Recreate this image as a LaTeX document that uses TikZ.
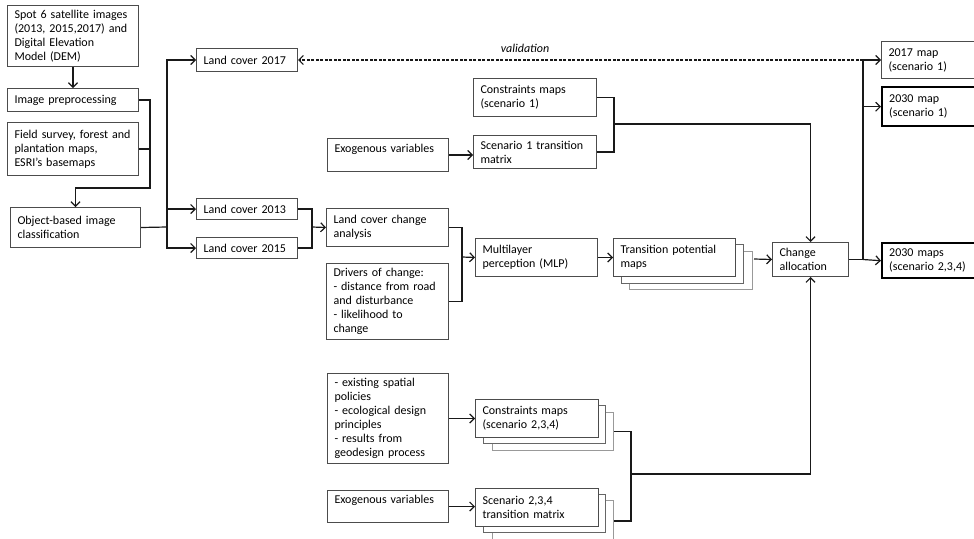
\documentclass[tikz,border=0pt]{standalone}
\usepackage{fontspec}
\setmainfont{Carlito}
\usetikzlibrary{arrows.meta}
\tikzset{
 box/.style={draw=black!70, line width=1pt, fill=white, anchor=north west, align=left, inner xsep=7pt, inner ysep=1pt, font=\fontsize{12}{14}\selectfont},
 shadowB/.style={draw=black!60},
 shadowC/.style={draw=black!40},
 thickbox/.style={draw=black, line width=2.4pt},
 conn/.style={draw=black!90, line width=1.2pt},
 arr/.style={conn, -{Straight Barb[length=4.5pt,width=9pt]}},
}
\newcommand\bx[7][]{%
 \pgfmathsetmacro\bw{#5-#3}\pgfmathsetmacro\bh{#6-#4}\pgfmathsetmacro\tw{#5-#3-13}%
 \node[box,#1,minimum width=\bw pt,minimum height=\bh pt,text width=\tw pt] (#2) at (#3,#4) {#7};}
\begin{document}
\begin{tikzpicture}[x=1pt,y=-1pt]
\useasboundingbox (0,0) rectangle (974,538);
\fill[white] (0,0) rectangle (974,538);
\clip (0,0) rectangle (974,538);

% left column
\bx{spot}{7}{5}{137}{66}{Spot 6 satellite images\\(2013, 2015,2017) and\\Digital Elevation\\Model (DEM)}
\bx{prep}{7}{88}{137}{111}{Image preprocessing}
\bx{field}{7}{122}{137}{175}{Field survey, forest and\\plantation maps,\\ESRI’s basemaps}
\bx{obj}{10}{207}{139}{247}{Object-based image\\classification}

% land covers
\bx{lc17}{196}{48}{296}{71}{Land cover 2017}
\bx{lc13}{196}{198}{296}{219}{Land cover 2013}
\bx{lc15}{196}{237}{296}{258}{Land cover 2015}

% scenario 1
\bx{cm1}{473}{78}{595}{116}{Constraints maps\\(scenario 1)}
\bx{exo1}{327}{138}{447}{171}{Exogenous variables\\\mbox{}}
\bx{tm1}{473}{135}{595}{168}{Scenario 1 transition\\matrix}

% change analysis
\bx{lcca}{326}{208}{447}{246}{Land cover change\\analysis}
\bx{drivers}{326}{263}{447}{339}{Drivers of change:\\- distance from road\\and disturbance\\- likelihood to\\change}
\bx{mlp}{475}{238}{596}{276}{Multilayer\\perception (MLP)}
\bx[shadowC]{tpmC}{629}{251}{751}{289}{}
\bx[shadowB]{tpmB}{621}{244}{742}{283}{}
\bx{tpm}{613}{238}{734}{276}{Transition potential\\maps}
\bx{ca}{772}{242}{847}{276}{Change\\allocation}

% outputs
\bx{map1}{881}{41}{1000}{78}{2017 map\\(scenario 1)}
\bx[thickbox]{map2}{881}{86}{1000}{125}{2030 map\\(scenario 1)}
\bx[thickbox]{map3}{881}{242}{1000}{277}{2030 maps\\(scenario 2,3,4)}

% scenarios 2,3,4
\bx{bul}{327}{373}{447}{463}{- existing spatial\\policies\\- ecological design\\principles\\- results from\\geodesign process}
\bx[shadowC]{cm2C}{492}{412}{612}{450}{}
\bx[shadowB]{cm2B}{483}{405}{604}{443}{}
\bx{cm2}{475}{399}{597}{437}{Constraints maps\\(scenario 2,3,4)}
\bx{exo2}{327}{490}{447}{522}{Exogenous variables\\\mbox{}}
\bx[shadowC]{tm2C}{492}{500}{612}{541}{}
\bx[shadowB]{tm2B}{483}{494}{604}{532}{}
\bx{tm2}{475}{488}{597}{526}{Scenario 2,3,4\\transition matrix}

\node[font=\fontsize{12}{14}\selectfont\itshape] (val) at (525,48) {validation};

% connectors
\coordinate (j1) at (150,188);
\draw[arr] (spot.south) -- (prep.north);
\draw[arr] (prep.east) -| (j1) -| (obj.north);
\draw[conn] (field.east) -- (field.east -| j1);

\coordinate (j2) at (167,227);
\draw[conn] (obj.east) -- (j2);
\draw[arr] (j2) |- (lc17.west);
\draw[arr] (j2) |- (lc13.west);
\draw[arr] (j2) |- (lc15.west);

\coordinate (j3) at (312,227);
\draw[conn] (lc13.east) -| (j3);
\draw[conn] (lc15.east) -| (j3);
\draw[arr] (j3) -- (lcca.west);

\coordinate (j4) at (462,257);
\draw[conn] (lcca.east) -| (j4);
\draw[conn] (drivers.east) -| (j4);
\draw[arr] (j4) -- (mlp.west);
\draw[arr] (mlp.east) -- (tpm.west);

\coordinate (j5) at (754,259);
\draw[arr] (j5) -- (ca.west);

\coordinate (j6) at (863,259.5);
\draw[conn] (ca.east) -- (j6);
\draw[arr] (j6) -- (map3.west);
\draw[arr] (j6) |- (map2.west);
\draw[arr] (j6) |- (map1.west);
\draw[arr, dash pattern=on 3pt off 1.5pt] (j6 |- lc17.east) -- (lc17.east);

\coordinate (j7) at (614,124);
\draw[conn] (cm1.east) -| (j7);
\draw[conn] (tm1.east) -| (j7);
\draw[arr] (j7) -| (ca.north);
\draw[arr] (exo1.east) -- (exo1.east -| tm1.west);

\draw[arr] (bul.east) -- (cm2.west);
\draw[arr] (exo2.east) -- (exo2.east -| tm2.west);
\coordinate (j8) at (631,474);
\draw[conn] (cm2C.east) -| (j8);
\draw[conn] (tm2C.east) -| (j8);
\draw[arr] (j8) -| (ca.south);
\end{tikzpicture}
\end{document}
